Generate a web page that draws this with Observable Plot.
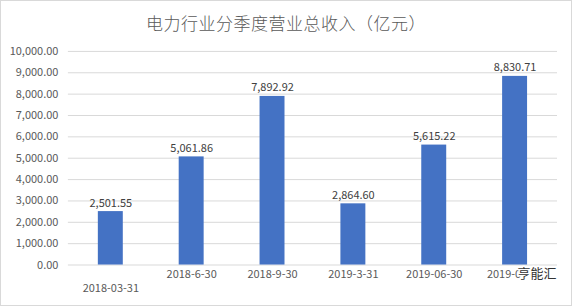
<!DOCTYPE html>
<html><head><meta charset="utf-8">
<script src="https://cdn.jsdelivr.net/npm/d3@7"></script>
<script src="https://cdn.jsdelivr.net/npm/@observablehq/plot@0.6"></script>
<style>
body{margin:0;background:#fff;}
#wrap{position:relative;width:572px;height:306px;box-sizing:border-box;border:1px solid #d9d9d9;background:#fff;font-family:"Noto Sans CJK SC","Noto Sans",sans-serif;}
#title{position:absolute;left:0;right:0;top:9px;text-align:center;font-size:17px;color:#595959;letter-spacing:0.5px;font-weight:300;}
#chart{position:absolute;left:-1px;top:-1px;}
</style></head>
<body>
<div id="wrap"><div id="title">电力行业分季度营业总收入（亿元）</div><div id="chart"></div></div>
<script>
const categories = ["2018-03-31","2018-6-30","2018-9-30","2019-3-31","2019-06-30","2019-09-30"];
const values = [2501.55, 5061.86, 7892.92, 2864.60, 5615.22, 8830.71];
const yTicks = [0,1000,2000,3000,4000,5000,6000,7000,8000,9000,10000];

const data = categories.map((c,i)=>({cat:c, value:values[i], idx:i}));
const fmt = d3.format(",.2f");

const chart = Plot.plot({
  width: 572, height: 306,
  marginLeft: 68, marginRight: 14, marginTop: 51, marginBottom: 41,
  style: {fontFamily: '"Noto Sans CJK SC","Noto Sans",sans-serif', fontSize: "11px", color: "#595959", background: "transparent"},
  x: {domain: categories, paddingInner: 0.69, paddingOuter: 0.345, axis: null},
  y: {domain: [0,10000], axis: null},
  marks: [
    Plot.ruleY(yTicks, {stroke: "#d9d9d9", strokeWidth: 1}),
    Plot.text(yTicks, {y: d=>d, text: d=>fmt(d), frameAnchor: "left", textAnchor: "end", dx: -10, fill: "#595959"}),
    Plot.barY(data, {x: "cat", y: "value", fill: "#4472C4"}),
    Plot.text(data, {x: "cat", y: "value", text: d=>fmt(d.value), lineAnchor: "bottom", dy: -5, fill: "#404040"}),
    Plot.text(data.filter(d=>d.idx===0), {x: "cat", text: "cat", frameAnchor: "bottom", dy: 27, fill: "#595959"}),
    Plot.text(data.filter(d=>d.idx>0), {x: "cat", text: "cat", frameAnchor: "bottom", dy: 13, fill: "#595959"}),
    Plot.text(["亨能汇"], {x: ()=>categories[5], text: d=>d, frameAnchor: "bottom", dy: 13, dx: 22, fontSize: 13, fill: "#333", stroke: "white", strokeWidth: 3})
  ]
});
document.getElementById("chart").appendChild(chart);
</script>
</body></html>
